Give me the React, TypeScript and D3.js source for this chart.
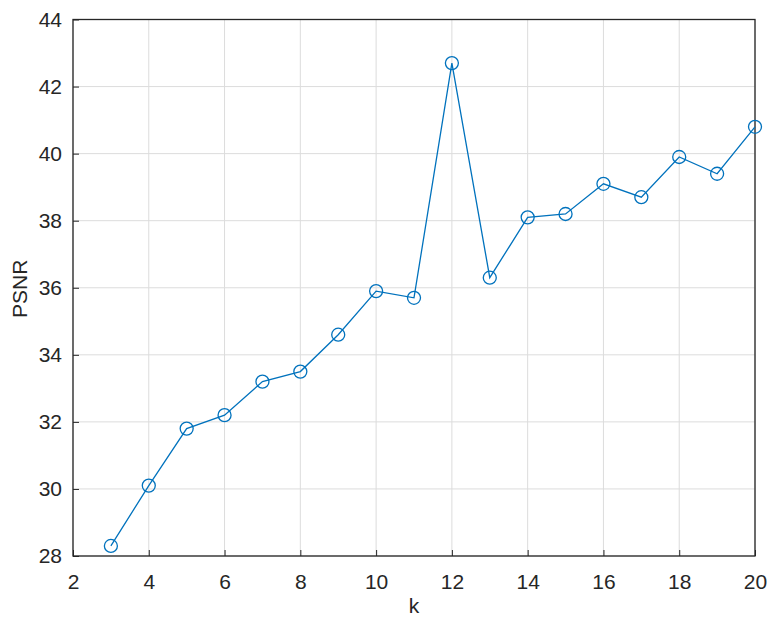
import React, { useEffect, useRef } from "react";
import * as d3 from "d3";

const kValues = [3, 4, 5, 6, 7, 8, 9, 10, 11, 12, 13, 14, 15, 16, 17, 18, 19, 20];
const psnrValues = [28.3, 30.1, 31.8, 32.2, 33.2, 33.5, 34.6, 35.9, 35.7, 42.7, 36.3, 38.1, 38.2, 39.1, 38.7, 39.9, 39.4, 40.8];
const xTicks = [2, 4, 6, 8, 10, 12, 14, 16, 18, 20];
const yTicks = [28, 30, 32, 34, 36, 38, 40, 42, 44];

const App = () => {
  const ref = useRef<SVGSVGElement>(null);

  useEffect(() => {
    const width = 767;
    const height = 618;
    const margin = { top: 19.5, right: 12, bottom: 62, left: 73 };
    const graphWidth = width - margin.left - margin.right;
    const graphHeight = height - margin.top - margin.bottom;

    const svg = d3.select(ref.current);
    svg.selectAll("*").remove();

    const graph = svg
      .append("g")
      .attr("transform", `translate(${margin.left}, ${margin.top})`);

    const x = d3.scaleLinear().domain([2, 20]).range([0, graphWidth]);
    const y = d3.scaleLinear().domain([28, 44]).range([graphHeight, 0]);

    // grid
    graph
      .selectAll(".vgrid")
      .data(xTicks)
      .enter()
      .append("line")
      .attr("x1", d => x(d))
      .attr("x2", d => x(d))
      .attr("y1", 0)
      .attr("y2", graphHeight)
      .attr("stroke", "#dcdcdc")
      .attr("stroke-width", 1);
    graph
      .selectAll(".hgrid")
      .data(yTicks)
      .enter()
      .append("line")
      .attr("x1", 0)
      .attr("x2", graphWidth)
      .attr("y1", d => y(d))
      .attr("y2", d => y(d))
      .attr("stroke", "#dcdcdc")
      .attr("stroke-width", 1);

    const font = "'Liberation Sans', Arial, sans-serif";

    const xAxis = d3
      .axisBottom(x)
      .tickValues(xTicks)
      .tickSize(-6)
      .tickPadding(18)
      .tickFormat(d => `${d}`);
    const yAxis = d3
      .axisLeft(y)
      .tickValues(yTicks)
      .tickSize(-6)
      .tickPadding(11)
      .tickFormat(d => `${d}`);

    const xAxisGroup = graph
      .append("g")
      .attr("transform", `translate(0, ${graphHeight})`)
      .call(xAxis);
    const yAxisGroup = graph.append("g").call(yAxis);

    [xAxisGroup, yAxisGroup].forEach(g => {
      g.select(".domain").remove();
      g.selectAll("line").attr("stroke", "#262626");
      g.selectAll("text")
        .attr("fill", "#262626")
        .style("font-family", font)
        .style("font-size", "21px");
    });

    // box
    graph
      .append("rect")
      .attr("x", 0)
      .attr("y", 0)
      .attr("width", graphWidth)
      .attr("height", graphHeight)
      .attr("fill", "none")
      .attr("stroke", "#262626")
      .attr("stroke-width", 1.3);

    const points = kValues.map((k, i) => [k, psnrValues[i]] as [number, number]);
    const line = d3
      .line<[number, number]>()
      .x(d => x(d[0]))
      .y(d => y(d[1]));

    graph
      .append("path")
      .attr("d", line(points))
      .attr("fill", "none")
      .attr("stroke", "#0072BD")
      .attr("stroke-width", 1.3);

    graph
      .selectAll("circle")
      .data(points)
      .enter()
      .append("circle")
      .attr("cx", d => x(d[0]))
      .attr("cy", d => y(d[1]))
      .attr("r", 6.5)
      .attr("fill", "none")
      .attr("stroke", "#0072BD")
      .attr("stroke-width", 1.3);

    svg
      .append("text")
      .attr("x", margin.left + graphWidth / 2)
      .attr("y", 613)
      .attr("text-anchor", "middle")
      .attr("fill", "#262626")
      .style("font-family", font)
      .style("font-size", "21px")
      .text("k");

    svg
      .append("text")
      .attr("transform", `translate(27, ${margin.top + graphHeight / 2 + 1}) rotate(-90)`)
      .attr("text-anchor", "middle")
      .attr("fill", "#262626")
      .style("font-family", font)
      .style("font-size", "21px")
      .text("PSNR");
  }, []);

  return (
    <svg
      ref={ref}
      width={767}
      height={618}
      style={{ position: "absolute", left: 0, top: 0, background: "#fff" }}
    />
  );
};

export default App;
